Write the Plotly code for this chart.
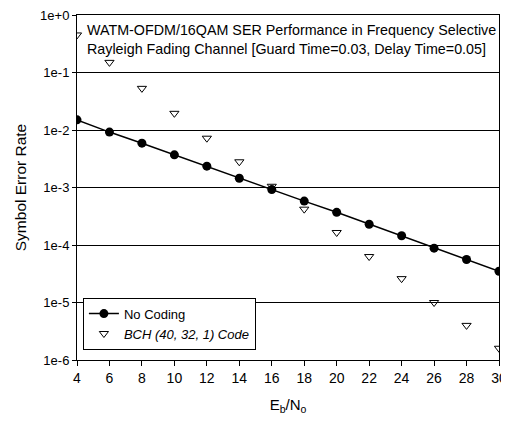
import plotly.graph_objects as go

ebno = [4, 6, 8, 10, 12, 14, 16, 18, 20, 22, 24, 26, 28, 30]
ser_no_coding = [1.5e-2, 9.2e-3, 5.9e-3, 3.7e-3, 2.35e-3, 1.45e-3, 9.2e-4, 5.8e-4,
                 3.7e-4, 2.3e-4, 1.45e-4, 8.8e-5, 5.6e-5, 3.5e-5]
ser_bch = [0.45, 0.15, 5.3e-2, 1.95e-2, 7.2e-3, 2.8e-3, 1.05e-3, 4.2e-4,
           1.65e-4, 6.3e-5, 2.6e-5, 1.0e-5, 4.0e-6, 1.6e-6]
ytick_vals = [1, 1e-1, 1e-2, 1e-3, 1e-4, 1e-5, 1e-6]
ytick_text = ["1e+0", "1e-1", "1e-2", "1e-3", "1e-4", "1e-5", "1e-6"]
title_lines = ["WATM-OFDM/16QAM SER Performance in Frequency Selective",
               "Rayleigh Fading Channel [Guard Time=0.03, Delay Time=0.05]"]

FONT = "Liberation Sans, Arial"

fig = go.Figure()
fig.add_trace(go.Scatter(
    x=ebno, y=ser_no_coding, mode="lines+markers", name="No Coding",
    line=dict(color="black", width=1.5),
    marker=dict(symbol="circle", size=9, color="black"),
))
fig.add_trace(go.Scatter(
    x=ebno, y=ser_bch, mode="markers", name="<i>BCH (40, 32, 1) Code</i>",
    marker=dict(symbol="triangle-down-open", size=8, color="black",
                line=dict(width=1, color="black")),
))

fig.add_annotation(
    x=0.02, y=0.985, xref="paper", yref="paper", xanchor="left", yanchor="top",
    text="<br>".join(title_lines), showarrow=False, align="left",
    font=dict(family=FONT, size=14.3, color="black"),
)

# the page adds an 8px body margin, so the figure is sized/offset to compensate
fig.update_layout(
    width=501, height=413,
    margin=dict(l=69, r=10, t=7, b=61),
    paper_bgcolor="white", plot_bgcolor="white",
    font=dict(family=FONT, size=13, color="black"),
    showlegend=True,
    legend=dict(x=0.014, y=0.03, xanchor="left", yanchor="bottom",
                bgcolor="white", bordercolor="black", borderwidth=1,
                font=dict(family=FONT, size=13, color="black"),
                tracegroupgap=0, itemwidth=30),
    xaxis=dict(range=[4, 30], tickvals=list(range(4, 31, 2)), automargin=False,
               ticklabeloverflow="allow",
               showgrid=False, showline=True, linecolor="black", linewidth=1,
               mirror=True, ticks="outside", ticklen=5, tickcolor="black",
               tickfont=dict(family=FONT, size=14),
               title=dict(text="E<sub>b</sub>/N<sub>o</sub>", standoff=14,
                          font=dict(family=FONT, size=15))),
    yaxis=dict(type="log", range=[-6, 0], tickvals=ytick_vals, ticktext=ytick_text,
               automargin=False, ticklabeloverflow="allow",
               showgrid=True, gridcolor="black", gridwidth=1,
               showline=True, linecolor="black", linewidth=1, mirror=True,
               ticks="outside", ticklen=4, tickcolor="black",
               tickfont=dict(family=FONT, size=13),
               title=dict(text="Symbol Error Rate", standoff=9,
                          font=dict(family=FONT, size=15.5))),
)

fig.write_html("out.html")
